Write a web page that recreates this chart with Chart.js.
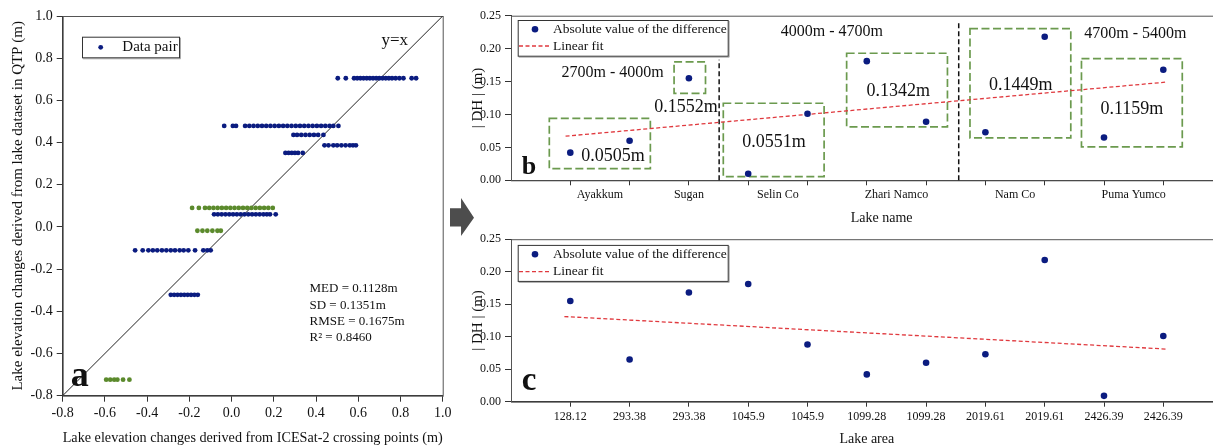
<!DOCTYPE html>
<html>
<head>
<meta charset="utf-8">
<script src="https://cdn.jsdelivr.net/npm/chart.js@4.4.1/dist/chart.umd.min.js"></script>
<style>
html, body { margin: 0; padding: 0; background: #fff; overflow: hidden; width: 1213px; height: 448px; }
canvas { position: absolute; }
#chartA { left: 0; top: 0; }
#chartB { left: 460px; top: 0; }
#chartC { left: 460px; top: 228px; }
#arrow { position: absolute; left: 450px; top: 198px; width: 24px; height: 38px; background: #4d4d4d;
  clip-path: polygon(0 27%, 46% 27%, 46% 0, 100% 52%, 46% 100%, 46% 75%, 0 75%); }
</style>
</head>
<body>
<canvas id="chartA" width="480" height="448"></canvas>
<div id="arrow"></div>
<canvas id="chartB" width="800" height="228"></canvas>
<canvas id="chartC" width="800" height="220"></canvas>
<script>
// ---- panel a: data pairs, one row per lake level ----
const blueRowLevels = [0.705, 0.479, 0.436, 0.387, 0.351, 0.060, -0.111, -0.322];
const blueRowXs = [
    [0.503, 0.541, 0.580, 0.595, 0.610, 0.625, 0.640, 0.655, 0.670, 0.685, 0.700, 0.715, 0.730, 0.745, 0.760, 0.777, 0.795, 0.814, 0.853, 0.874],
    [-0.035, 0.006, 0.021, 0.064, 0.084, 0.104, 0.124, 0.144, 0.164, 0.184, 0.204, 0.224, 0.244, 0.264, 0.284, 0.304, 0.324, 0.344, 0.364, 0.384, 0.404, 0.424, 0.444, 0.464, 0.482, 0.506],
    [0.293, 0.310, 0.330, 0.350, 0.370, 0.390, 0.410, 0.435],
    [0.440, 0.459, 0.482, 0.500, 0.520, 0.540, 0.560, 0.575, 0.589],
    [0.255, 0.270, 0.285, 0.300, 0.315, 0.337],
    [-0.083, -0.065, -0.047, -0.029, -0.011, 0.007, 0.025, 0.043, 0.061, 0.079, 0.097, 0.115, 0.133, 0.151, 0.167, 0.182, 0.209],
    [-0.457, -0.421, -0.394, -0.373, -0.352, -0.330, -0.309, -0.288, -0.268, -0.246, -0.227, -0.205, -0.173, -0.134, -0.115, -0.099],
    [-0.288, -0.272, -0.256, -0.240, -0.224, -0.208, -0.192, -0.176, -0.160]
];
const greenRowLevels = [0.090, -0.018, -0.724];
const greenRowXs = [
    [-0.187, -0.155, -0.126, -0.106, -0.086, -0.066, -0.046, -0.026, -0.006, 0.014, 0.034, 0.054, 0.074, 0.094, 0.114, 0.134, 0.154, 0.174, 0.195],
    [-0.162, -0.138, -0.115, -0.091, -0.067, -0.051],
    [-0.594, -0.575, -0.556, -0.541, -0.514, -0.484]
];
const diagLine = [-0.8, 1.0];
const pairTicks = [-0.8, -0.6, -0.4, -0.2, 0, 0.2, 0.4, 0.6, 0.8, 1.0];
const statsLines = ['MED = 0.1128m', 'SD = 0.1351m', 'RMSE = 0.1675m', 'R\u00b2 = 0.8460'];

// ---- panel b: |DH| by lake name ----
const lakeNames = ['Ayakkum', 'Sugan', 'Selin Co', 'Zhari Namco', 'Nam Co', 'Puma Yumco'];
const lakeNamePos = [1.5, 3, 4.5, 6.5, 8.5, 10.5];
const diffByName = [0.042, 0.060, 0.155, 0.010, 0.101, 0.181, 0.089, 0.073, 0.218, 0.065, 0.168];
const fitNameX = [0.92, 11.03];
const fitNameY = [0.067, 0.149];

// ---- panel c: |DH| by lake area ----
const lakeAreas = ['128.12', '293.38', '293.38', '1045.9', '1045.9', '1099.28', '1099.28', '2019.61', '2019.61', '2426.39', '2426.39'];
const diffByArea = [0.155, 0.065, 0.168, 0.181, 0.088, 0.042, 0.060, 0.073, 0.218, 0.009, 0.101];
const fitAreaX = [0.90, 11.04];
const fitAreaY = [0.131, 0.081];
const dhTicks = [0, 0.05, 0.10, 0.15, 0.20, 0.25];

const NAVY = '#0b1c80';
const GREEN = '#5b8a2c';
const RED = '#e0393e';
const BOXGREEN = '#6b9a4e';

Chart.defaults.font.family = '"Liberation Serif", "Times New Roman", serif';
Chart.defaults.color = '#111';
Chart.defaults.animation = false;

// frame, dashed boxes, separators, texts and legend
const decor = {
    id: 'decor',
    beforeDatasetsDraw(chart, args, opts) {
        const { ctx, chartArea: a, scales: { x, y } } = chart;
        ctx.save();
        ctx.strokeStyle = '#555';
        ctx.lineWidth = 1;
        ctx.strokeRect(a.left + 0.5, a.top + 0.5, a.right - a.left, a.bottom - a.top);
        (opts.boxes || []).forEach(b => {
            ctx.strokeStyle = BOXGREEN;
            ctx.lineWidth = 1.7;
            ctx.setLineDash([8, 3.5]);
            const x0 = x.getPixelForValue(b[0]), y0 = y.getPixelForValue(b[1]);
            const x1 = x.getPixelForValue(b[2]), y1 = y.getPixelForValue(b[3]);
            ctx.strokeRect(x0, y0, x1 - x0, y1 - y0);
        });
        (opts.vlines || []).forEach(v => {
            ctx.strokeStyle = '#111';
            ctx.lineWidth = 1.5;
            ctx.setLineDash([5, 3]);
            const px = x.getPixelForValue(v[0]);
            ctx.beginPath();
            ctx.moveTo(px, y.getPixelForValue(0));
            ctx.lineTo(px, y.getPixelForValue(v[1]));
            ctx.stroke();
        });
        ctx.restore();
    },
    afterDatasetsDraw(chart, args, opts) {
        const { ctx, chartArea: a, scales: { x, y } } = chart;
        ctx.save();
        (opts.texts || []).forEach(t => {
            ctx.font = (t.bold ? 'bold ' : '') + t.size + 'px "Liberation Serif"';
            ctx.fillStyle = '#111';
            ctx.textAlign = t.align || 'center';
            ctx.textBaseline = t.baseline || 'middle';
            ctx.fillText(t.text, x.getPixelForValue(t.x), y.getPixelForValue(t.y));
        });
        const lg = opts.legend;
        if (lg) {
            const bx = a.left + lg.dx, by = a.top + lg.dy;
            ctx.fillStyle = '#fff';
            ctx.fillRect(bx, by, lg.w, lg.h);
            ctx.strokeStyle = '#aaa';
            ctx.lineWidth = 1;
            ctx.beginPath();
            ctx.moveTo(bx + lg.w + 1.5, by + 1);
            ctx.lineTo(bx + lg.w + 1.5, by + lg.h + 1.5);
            ctx.lineTo(bx + 1, by + lg.h + 1.5);
            ctx.stroke();
            ctx.strokeStyle = '#333';
            ctx.strokeRect(bx + 0.5, by + 0.5, lg.w, lg.h);
            lg.items.forEach(it => {
                const ds = chart.data.datasets[it.ds];
                const cy = by + it.dy;
                if (it.kind === 'dot') {
                    ctx.fillStyle = ds.backgroundColor;
                    ctx.beginPath();
                    ctx.arc(bx + it.mx, cy, it.r, 0, Math.PI * 2);
                    ctx.fill();
                } else {
                    ctx.strokeStyle = ds.borderColor;
                    ctx.lineWidth = ds.borderWidth;
                    ctx.setLineDash(ds.borderDash);
                    ctx.beginPath();
                    ctx.moveTo(bx + it.mx0, cy);
                    ctx.lineTo(bx + it.mx1, cy);
                    ctx.stroke();
                    ctx.setLineDash([]);
                }
                ctx.fillStyle = '#111';
                ctx.font = lg.font + 'px "Liberation Serif"';
                ctx.textAlign = 'left';
                ctx.textBaseline = 'middle';
                ctx.fillText(ds.label, bx + lg.tx, cy);
            });
        }
        ctx.restore();
    }
};

function rowsToPoints(levels, xs) {
    const pts = [];
    levels.forEach((lv, i) => xs[i].forEach(v => pts.push({ x: v, y: lv })));
    return pts;
}

// ---- panel a ----
new Chart(document.getElementById('chartA'), {
    type: 'scatter',
    data: {
        datasets: [
            { label: 'Data pair', data: rowsToPoints(blueRowLevels, blueRowXs), backgroundColor: NAVY, borderWidth: 0, pointRadius: 2.4 },
            { label: 'Data pair (second group)', data: rowsToPoints(greenRowLevels, greenRowXs), backgroundColor: GREEN, borderWidth: 0, pointRadius: 2.4 },
            { label: 'y=x', data: diagLine.map(v => ({ x: v, y: v })), showLine: true, borderColor: '#222', borderWidth: 1, pointRadius: 0 }
        ]
    },
    options: {
        responsive: false,
        devicePixelRatio: 1,
        layout: { padding: { top: 16, right: 37.3, bottom: 0, left: 0 } },
        plugins: {
            legend: { display: false },
            tooltip: { enabled: false },
            decor: {
                texts: [
                    { text: 'y=x', x: 0.773, y: 0.886, size: 17 },
                    { text: statsLines[0], x: 0.369, y: -0.294, size: 13, align: 'left' },
                    { text: statsLines[1], x: 0.369, y: -0.373, size: 13, align: 'left' },
                    { text: statsLines[2], x: 0.369, y: -0.449, size: 13, align: 'left' },
                    { text: statsLines[3], x: 0.369, y: -0.523, size: 13, align: 'left' },
                    { text: 'a', x: -0.762, y: -0.752, size: 36, bold: true, align: 'left', baseline: 'alphabetic' }
                ],
                legend: { dx: 19.3, dy: 20.7, w: 97, h: 20.6, tx: 40.3, font: 15,
                    items: [{ ds: 0, kind: 'dot', mx: 18.7, dy: 10.6, r: 2.4 }] }
            }
        },
        scales: {
            x: {
                type: 'linear', min: -0.8, max: 1.0, bounds: 'data',
                afterBuildTicks: s => { s.ticks = pairTicks.map(v => ({ value: v })); },
                afterFit: s => { s.height = 52.3; },
                ticks: { autoSkip: false, maxRotation: 0, padding: 3, font: { size: 14 }, callback: v => v.toFixed(1) },
                grid: { drawOnChartArea: false, tickLength: 6, tickColor: '#333' },
                border: { color: '#333' },
                title: { display: true, text: 'Lake elevation changes derived from ICESat-2 crossing points (m)', font: { size: 15 }, padding: { top: 0, bottom: 1 } }
            },
            y: {
                type: 'linear', min: -0.8, max: 1.0, bounds: 'data',
                afterBuildTicks: s => { s.ticks = pairTicks.map(v => ({ value: v })); },
                afterFit: s => { s.width = 62.7; },
                ticks: { padding: 4, font: { size: 14 }, callback: v => v.toFixed(1) },
                grid: { drawOnChartArea: false, tickLength: 6, tickColor: '#333' },
                border: { color: '#333' },
                title: { display: true, text: 'Lake elevation changes derived from lake dataset in QTP (m)', font: { size: 15 }, padding: { top: 9, bottom: 0 } }
            }
        }
    },
    plugins: [decor]
});

// tick marks at every point, labels at the group centres
const nameTicks = [...new Set([...diffByName.map((v, i) => i + 1), ...lakeNamePos])].sort((p, q) => p - q);

function dhAxis(titleText) {
    return {
        type: 'linear', min: 0, max: 0.25, bounds: 'data',
        afterBuildTicks: s => { s.ticks = dhTicks.map(v => ({ value: v })); },
        afterFit: s => { s.width = 51; },
        ticks: { padding: 4, font: { size: 12 }, callback: v => v.toFixed(2) },
        grid: { drawOnChartArea: false, tickLength: 6, tickColor: '#333' },
        border: { color: '#333' },
        title: { display: true, text: titleText, font: { size: 15 }, padding: { top: 9.5, bottom: 0 } }
    };
}

// ---- panel b ----
new Chart(document.getElementById('chartB'), {
    type: 'scatter',
    data: {
        datasets: [
            { label: 'Absolute value of the difference', data: diffByName.map((v, i) => ({ x: i + 1, y: v })), backgroundColor: NAVY, borderWidth: 0, pointRadius: 3.3 },
            { label: 'Linear fit', data: fitNameX.map((v, i) => ({ x: v, y: fitNameY[i] })), showLine: true, borderColor: RED, borderWidth: 1.3, borderDash: [4, 2.5], pointRadius: 0 }
        ]
    },
    options: {
        responsive: false,
        devicePixelRatio: 1,
        layout: { padding: { top: 15.7, right: 7.75, bottom: 0, left: 0 } },
        plugins: {
            legend: { display: false },
            tooltip: { enabled: false },
            decor: {
                boxes: [
                    [0.646, 0.0942, 2.35, 0.0176],
                    [2.75, 0.180, 3.28, 0.132],
                    [3.58, 0.117, 5.28, 0.0055],
                    [5.66, 0.193, 7.36, 0.081],
                    [7.74, 0.2304, 9.44, 0.0643],
                    [9.62, 0.1848, 11.32, 0.0507]
                ],
                vlines: [[3.51, 0.183], [7.55, 0.2426]],
                texts: [
                    { text: '2700m - 4000m', x: 1.715, y: 0.1635, size: 16 },
                    { text: '0.1552m', x: 2.95, y: 0.111, size: 18 },
                    { text: '0.0505m', x: 1.72, y: 0.0359, size: 18 },
                    { text: '0.0551m', x: 4.435, y: 0.0571, size: 18 },
                    { text: '4000m - 4700m', x: 5.41, y: 0.2258, size: 16 },
                    { text: '0.1342m', x: 6.53, y: 0.1347, size: 18 },
                    { text: '0.1449m', x: 8.595, y: 0.1448, size: 18 },
                    { text: '4700m - 5400m', x: 10.53, y: 0.2219, size: 16 },
                    { text: '0.1159m', x: 10.47, y: 0.1084, size: 18 },
                    { text: 'b', x: 0.18, y: 0.0096, size: 26, bold: true, align: 'left', baseline: 'alphabetic' }
                ],
                legend: { dx: 6.7, dy: 4.3, w: 210, h: 35.7, tx: 35.3, font: 13.5,
                    items: [
                        { ds: 0, kind: 'dot', mx: 17.3, dy: 9.3, r: 3.3 },
                        { ds: 1, kind: 'line', mx0: 1.3, mx1: 32.3, dy: 26 }
                    ] }
            }
        },
        scales: {
            x: {
                type: 'linear', min: 0, max: 12.5, bounds: 'data',
                afterBuildTicks: s => { s.ticks = nameTicks.map(v => ({ value: v })); },
                afterFit: s => { s.height = 47.7; },
                ticks: { autoSkip: false, maxRotation: 0, minRotation: 0, padding: 2.5, font: { size: 12 },
                    callback: v => { const k = lakeNamePos.indexOf(v); return k >= 0 ? lakeNames[k] : ''; } },
                grid: { drawOnChartArea: false, tickLength: 5,
                    tickColor: c => (c.tick && Number.isInteger(c.tick.value)) ? '#333' : 'rgba(0,0,0,0)' },
                border: { color: '#333' },
                title: { display: true, text: 'Lake name', font: { size: 14 }, padding: { top: 0, bottom: 1.6 } }
            },
            y: dhAxis('| DH | (m)')
        }
    },
    plugins: [decor]
});

// ---- panel c ----
new Chart(document.getElementById('chartC'), {
    type: 'scatter',
    data: {
        datasets: [
            { label: 'Absolute value of the difference', data: diffByArea.map((v, i) => ({ x: i + 1, y: v })), backgroundColor: NAVY, borderWidth: 0, pointRadius: 3.3 },
            { label: 'Linear fit', data: fitAreaX.map((v, i) => ({ x: v, y: fitAreaY[i] })), showLine: true, borderColor: RED, borderWidth: 1.3, borderDash: [4, 2.5], pointRadius: 0 }
        ]
    },
    options: {
        responsive: false,
        devicePixelRatio: 1,
        layout: { padding: { top: 9.3, right: 37.4, bottom: 0, left: 0 } },
        plugins: {
            legend: { display: false },
            tooltip: { enabled: false },
            decor: {
                texts: [
                    { text: 'c', x: 0.18, y: 0.0183, size: 33, bold: true, align: 'left', baseline: 'alphabetic' }
                ],
                legend: { dx: 6.7, dy: 5.7, w: 210, h: 36, tx: 35.3, font: 13.5,
                    items: [
                        { ds: 0, kind: 'dot', mx: 17.3, dy: 9.3, r: 3.3 },
                        { ds: 1, kind: 'line', mx0: 1.3, mx1: 32.3, dy: 26.7 }
                    ] }
            }
        },
        scales: {
            x: {
                type: 'linear', min: 0, max: 12, bounds: 'data',
                afterBuildTicks: s => { s.ticks = lakeAreas.map((v, i) => ({ value: i + 1 })); },
                afterFit: s => { s.height = 46.3; },
                ticks: { autoSkip: false, maxRotation: 0, minRotation: 0, padding: 3.4, font: { size: 12 },
                    callback: v => lakeAreas[v - 1] || '' },
                grid: { drawOnChartArea: false, tickLength: 5, tickColor: '#333' },
                border: { color: '#333' },
                title: { display: true, text: 'Lake area', font: { size: 14 }, padding: { top: 0, bottom: 0 } }
            },
            y: dhAxis('| DH | (m)')
        }
    },
    plugins: [decor]
});
</script>
</body>
</html>
